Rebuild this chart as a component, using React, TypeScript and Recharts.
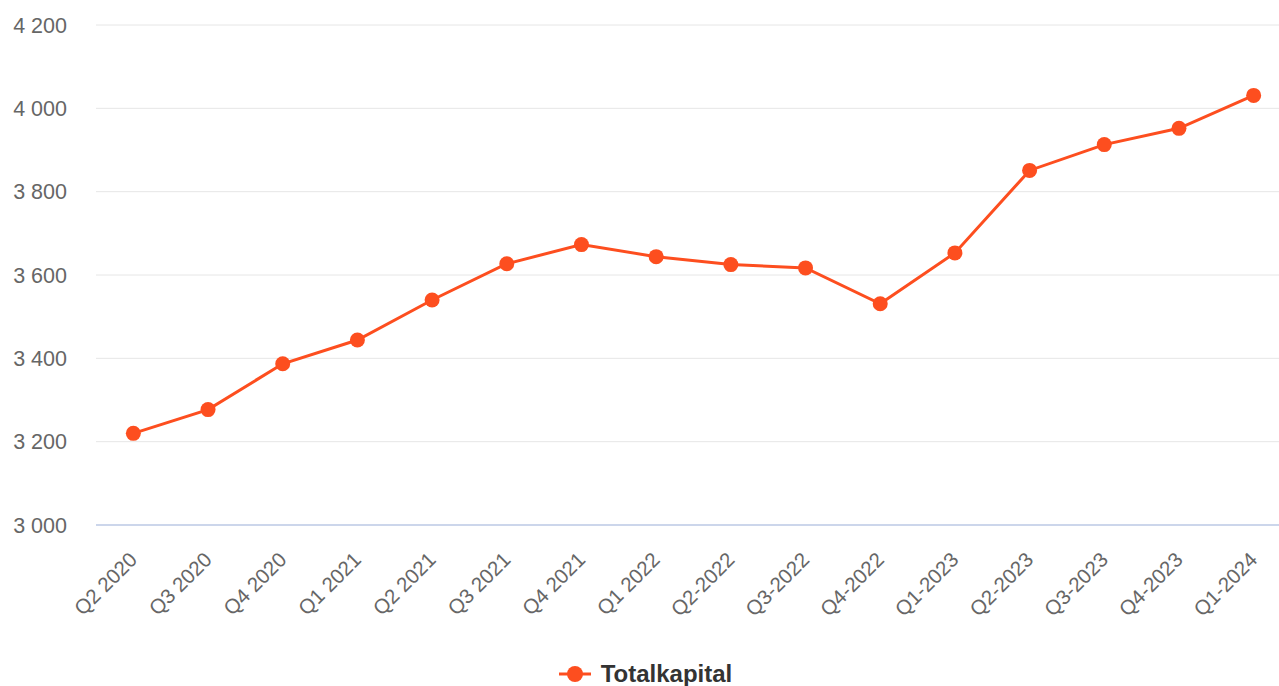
import { CartesianGrid, Legend, Line, LineChart, XAxis, YAxis } from "recharts";

const quarters = [
  "Q2 2020", "Q3 2020", "Q4 2020", "Q1 2021", "Q2 2021", "Q3 2021", "Q4 2021", "Q1 2022",
  "Q2-2022", "Q3-2022", "Q4-2022", "Q1-2023", "Q2-2023", "Q3-2023", "Q4-2023", "Q1-2024",
];
const totalkapital = [
  3220, 3277, 3387, 3444, 3540, 3627, 3673, 3644,
  3625, 3617, 3531, 3653, 3851, 3913, 3952, 4031,
];
const yTicks = [3000, 3200, 3400, 3600, 3800, 4000, 4200];

const data = quarters.map((q, i) => ({ quarter: q, value: totalkapital[i] }));

const COLOR = "#fd4e1f";
const FONT = '"Liberation Sans", Arial, sans-serif';

const fmt = (v: number) => v.toLocaleString("en-US").replace(",", " ");

// rotated category labels, anchored a bit right of the tick like the original
function XTick({ x, y, payload }: any) {
  const ax = x + 5;
  return (
    <text
      x={ax}
      y={y}
      transform={`rotate(-45, ${ax}, ${y})`}
      textAnchor="end"
      fill="#666666"
      fontSize={20.5}
      fontFamily={FONT}
    >
      {payload.value}
    </text>
  );
}

function LegendContent() {
  return (
    <div style={{ display: "flex", justifyContent: "center", alignItems: "center", paddingTop: 24, fontFamily: FONT }}>
      <svg width={32} height={20} style={{ marginRight: 10 }}>
        <line x1={0} y1={10} x2={32} y2={10} stroke={COLOR} strokeWidth={3} />
        <circle cx={16} cy={10} r={8} fill={COLOR} />
      </svg>
      <span style={{ fontSize: 24, fontWeight: 700, color: "#333333" }}>Totalkapital</span>
    </div>
  );
}

export default function App() {
  return (
    <div style={{ position: "absolute", left: 0, top: 0, width: 1279, height: 686, overflow: "hidden", background: "#fff" }}>
      <LineChart width={1291} height={686} data={data} margin={{ top: 25, right: 0, bottom: 0, left: 0 }}>
        <CartesianGrid stroke="#e6e6e6" vertical={false} />
        <XAxis
          dataKey="quarter"
          scale="band"
          interval={0}
          height={111}
          tickLine={false}
          axisLine={{ stroke: "#ccd6eb", strokeWidth: 2 }}
          tickSize={0}
          tickMargin={36}
          tick={<XTick />}
        />
        <YAxis
          domain={[3000, 4200]}
          ticks={yTicks}
          width={96}
          axisLine={false}
          tickLine={false}
          tickSize={0}
          tickMargin={29}
          tickFormatter={fmt}
          tick={{ fill: "#666666", fontSize: 21.5, fontFamily: FONT }}
        />
        <Legend verticalAlign="bottom" height={50} content={<LegendContent />} />
        <Line
          dataKey="value"
          name="Totalkapital"
          stroke={COLOR}
          strokeWidth={3}
          dot={{ r: 7.5, fill: COLOR, stroke: COLOR, strokeWidth: 0 }}
          activeDot={false}
          isAnimationActive={false}
        />
      </LineChart>
    </div>
  );
}
